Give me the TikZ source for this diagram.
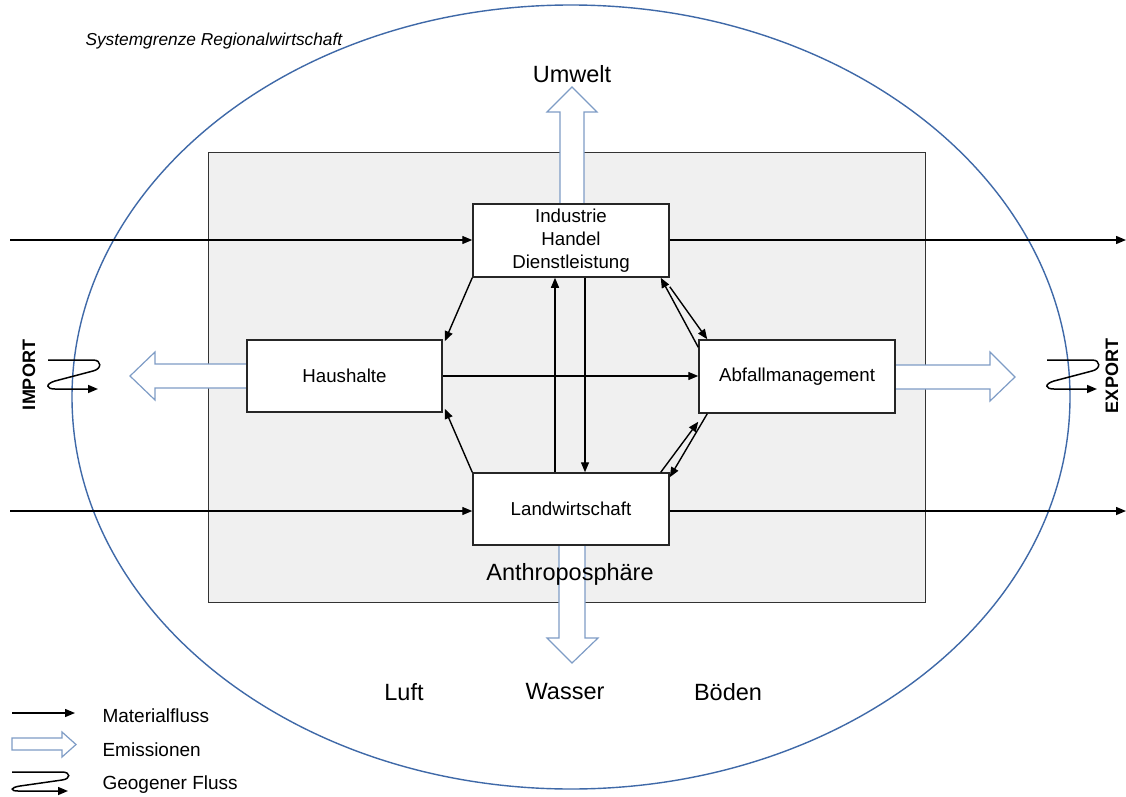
\documentclass[tikz,border=0pt]{standalone}
\usepackage{fontspec}
\setmainfont{Liberation Sans}
\usetikzlibrary{arrows.meta,calc}
\definecolor{ellblue}{HTML}{3F69A8}
\definecolor{emblue}{HTML}{7E9CC6}
\definecolor{grayfill}{HTML}{F0F0F0}
\tikzset{
  box/.style={draw=black!85,line width=1.5pt,fill=white,minimum width=196pt,minimum height=73pt,inner sep=0pt,align=center,font=\fontsize{18.7}{23}\selectfont},
  flow/.style={line width=1.4pt,-{Triangle[length=10pt,width=8pt]}},
  geo/.style={line width=1.5pt,-{Triangle[length=10pt,width=8pt]}},
  emis/.style={draw=emblue,line width=1.2pt,fill=white,line join=miter},
  big/.style={font=\fontsize{23.5}{28}\selectfont},
  leg/.style={font=\fontsize{19}{22}\selectfont,anchor=west},
  pics/geoflow/.style={code={
    \draw[geo] (0,0) -- (45,0) .. controls (54,0) and (54,9) .. (45,11) -- (7,21) .. controls (-3,24) and (-2,29) .. (7,29) -- (50,29);
  }}
}
\begin{document}
\begin{tikzpicture}[x=1pt,y=-1pt]
\useasboundingbox (0,0) rectangle (1126,797);
\fill[white] (0,0) rectangle (1126,797);
% system boundary
\draw[ellblue,line width=1.4pt] (571,397) ellipse [x radius=499, y radius=392];
\node[font=\fontsize{17.3}{20}\selectfont\itshape,anchor=west] (sys) at (82,41) {Systemgrenze Regionalwirtschaft};
% anthroposphere
\draw[black!80,line width=0.9pt,fill=grayfill] (208,152) rectangle (925,602);
% emission arrows
\draw[emis] (560,204) -- (560,112) -- (547,112) -- (572,87) -- (597,112) -- (584,112) -- (584,204);
\draw[emis] (559,545) -- (559,638) -- (547,638) -- (572,663) -- (598,638) -- (585,638) -- (585,545);
\draw[emis] (247,364) -- (155,364) -- (155,352) -- (130,376) -- (155,400) -- (155,388) -- (247,388);
\draw[emis] (895,365) -- (990,365) -- (990,352) -- (1015,377) -- (990,401) -- (990,389) -- (895,389);
\node[big] (umw) at (572,74) {Umwelt};
\node[big] (anth) at (570,574) {Anthroposphäre};
% boxes
\node[box] (ind) at (571,240.5) {Industrie\\Handel\\Dienstleistung};
\node[box,minimum height=72pt,minimum width=195pt] (hh) at (344.5,376) {Haushalte};
\node[box] (abf) at (797,376.5) {Abfallmanagement};
\node[box,minimum height=72pt] (lw) at (571,509) {Landwirtschaft};
% import / export flows
\coordinate (imp1) at (10,240);
\coordinate (imp2) at (10,511);
\coordinate (exp1) at (1126,240);
\coordinate (exp2) at (1126,511);
\draw[flow] (imp1) -- (imp1 -| ind.west);
\draw[flow] (imp2) -- (imp2 -| lw.west);
\draw[flow] (exp1 -| ind.east) -- (exp1);
\draw[flow] (exp2 -| lw.east) -- (exp2);
% internal flows
\draw[flow] (ind.south west) -- ([xshift=2pt,yshift=-2pt]hh.north east);
\draw[flow] (lw.north west) -- ([xshift=2pt,yshift=4pt]hh.south east);
\draw[flow] (lw.north -| 555,0) -- (ind.south -| 555,0);
\draw[flow] (ind.south -| 585,0) -- (lw.north -| 585,0);
\draw[flow] (hh.east) -- (hh.east -| abf.west);
\draw[flow] ([yshift=-9pt]ind.south east) -- ([xshift=9pt]abf.north west);
\draw[flow] ([yshift=-8pt]abf.north west) -- ([xshift=-9pt]ind.south east);
\draw[flow] ([xshift=-9pt]lw.north east) -- ([yshift=-8pt]abf.south west);
\draw[flow] ([xshift=9pt]abf.south west) -- ([yshift=-5pt]lw.north east);
% geogenic flows
\pic at (48,360) {geoflow};
\pic at (1047,360) {geoflow};
\node[rotate=90,font=\fontsize{18}{22}\selectfont\bfseries] (impt) at (29,375) {IMPORT};
\node[rotate=90,font=\fontsize{18}{22}\selectfont\bfseries] (expt) at (1112,376) {EXPORT};
% environment compartments
\node[big] (luft) at (404,692) {Luft};
\node[big] (wass) at (565,692) {Wasser};
\node[big] (bod) at (728,692) {Böden};
% legend
\coordinate (l1a) at (12,713);
\coordinate (l1b) at (75,713);
\draw[flow] (l1a) -- (l1b);
\node[leg] (lmat) at (99,716) {Materialfluss};
\draw[emis] (12,738) -- (62,738) -- (62,732) -- (76,744.5) -- (62,757) -- (62,750) -- (12,750) -- cycle;
\node[leg] (lemi) at (99,750) {Emissionen};
\draw[geo] (12,772) -- (62,772) .. controls (71,772) and (71,779) .. (62,780) -- (20,786) .. controls (10,787.5) and (10,791) .. (18,791) -- (68,791);
\node[leg] (lgeo) at (99,785) {Geogener Fluss};
\end{tikzpicture}
\end{document}
